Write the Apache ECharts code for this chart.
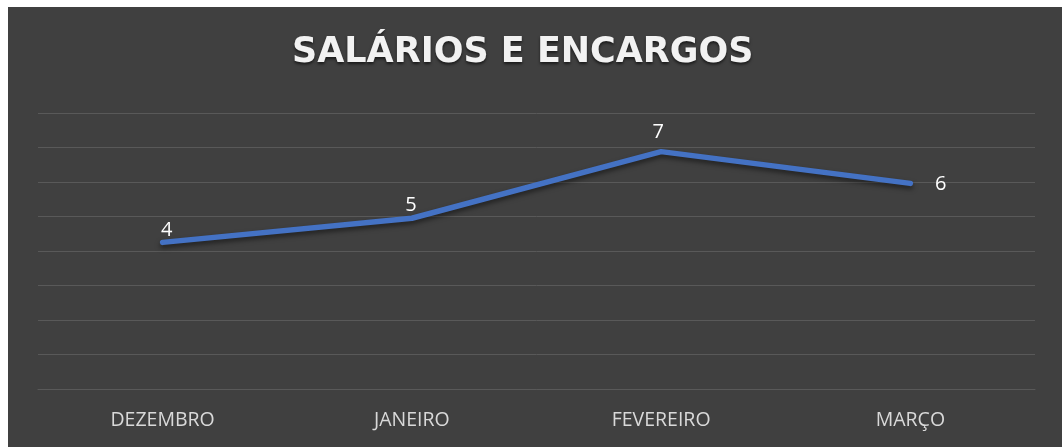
<!DOCTYPE html>
<html><head><meta charset="utf-8">
<script src="https://cdn.jsdelivr.net/npm/echarts@6/dist/echarts.min.js"></script>
<style>html,body{margin:0;padding:0;background:#fff;}#c{width:1063px;height:447px;}</style>
</head><body><div id="c"></div>
<script>
const titleText = 'SALÁRIOS E ENCARGOS';
const categories = ['DEZEMBRO', 'JANEIRO', 'FEVEREIRO', 'MARÇO'];
const values = [4.25, 4.95, 6.88, 5.96];
const labelTexts = ['4', '5', '7', '6'];

// label placement (style, not data)
const labelStyle = [
  { position: 'top', distance: 1, offset: [4, 0] },
  { position: 'top', distance: 1, offset: [-1, 0] },
  { position: 'top', distance: 8, offset: [-3, 0] },
  { position: 'right', distance: 23, offset: [0, 1] }
];

const chart = echarts.init(document.getElementById('c'));
chart.setOption({
  backgroundColor: 'transparent',
  animation: false,
  graphic: [{ type: 'rect', z: -10, silent: true, shape: { x: 8, y: 7, width: 1054, height: 440 }, style: { fill: '#404040' } }],
  title: {
    text: titleText, left: 287, top: 30,
    textStyle: { fontFamily: 'DejaVu Sans', fontWeight: 'bold', fontSize: 35, color: '#f2f2f2',
      textShadowColor: 'rgba(0,0,0,0.6)', textShadowBlur: 3, textShadowOffsetY: 2 }
  },
  grid: { left: 38, right: 28, top: 113, bottom: 58 },
  xAxis: {
    type: 'category', data: categories, boundaryGap: true,
    axisLine: { show: true, lineStyle: { color: '#595959', width: 1 } },
    axisTick: { show: false },
    axisLabel: { color: '#d9d9d9', fontFamily: 'Open Sans', fontSize: 19.5, margin: 21 }
  },
  yAxis: {
    type: 'value', min: 0, max: 8, interval: 1,
    axisLabel: { show: false }, axisLine: { show: false }, axisTick: { show: false },
    splitLine: { lineStyle: { color: '#595959', width: 1 } }
  },
  series: [{
    type: 'line', symbol: 'circle', symbolSize: 3, showSymbol: true,
    itemStyle: { color: '#4472c4', borderWidth: 0 },
    data: values.map((v, i) => ({
      value: v,
      label: Object.assign({ show: true, formatter: labelTexts[i] }, labelStyle[i])
    })),
    lineStyle: { color: '#4472c4', width: 5.5, cap: 'round', join: 'round',
      shadowColor: 'rgba(0,0,0,0.5)', shadowBlur: 5, shadowOffsetY: 3 },
    label: { show: true, color: '#ffffff', fontFamily: 'Open Sans', fontSize: 20 }
  }]
});
</script></body></html>
